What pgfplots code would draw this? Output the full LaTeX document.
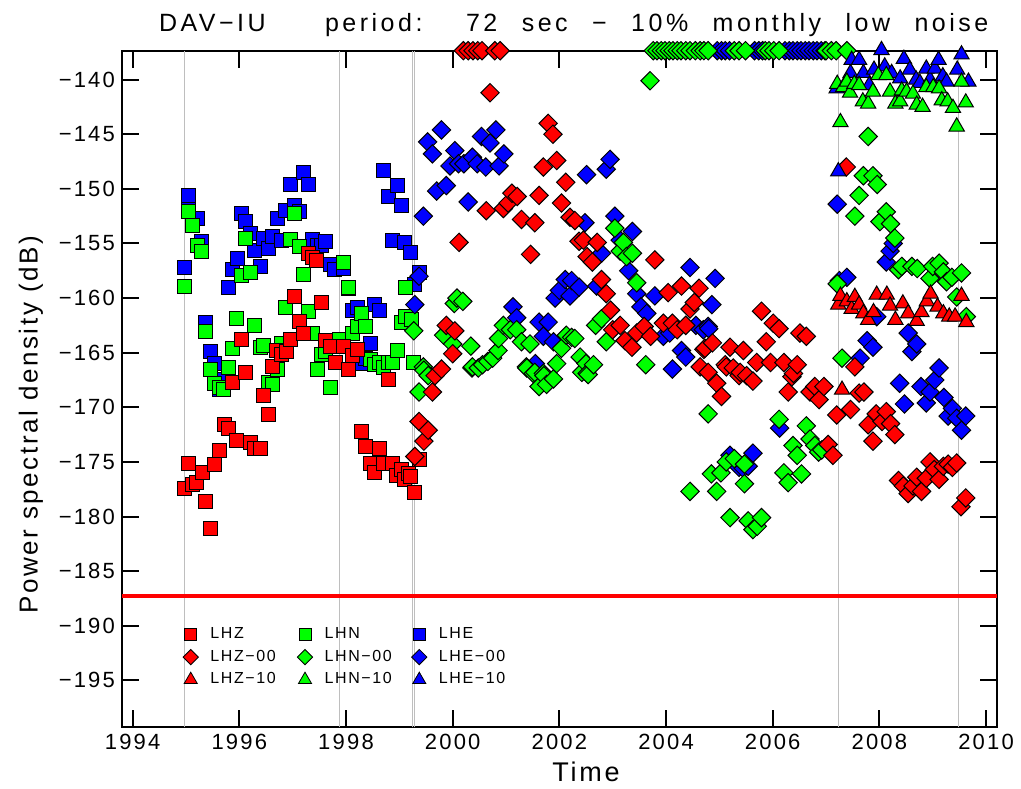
\documentclass[border=0pt]{standalone}
\usepackage{fontspec}
\setmainfont{Liberation Sans}[LetterSpace=10]
\newfontfamily\titlefont{Liberation Sans}[LetterSpace=14]
\usepackage{pgfplots}
\pgfplotsset{compat=1.18}

% marker styles: squares (no location code), diamonds (-00), triangles (-10)
\pgfplotsset{
  sq/.style={only marks, mark=square*, mark size=3.5pt, draw=black, mark options={line width=0.5pt}},
  dm/.style={only marks, mark=square*, mark size=3.25pt, draw=black, mark options={rotate=45, line width=0.5pt}},
  tr/.style={only marks, mark=triangle*, mark size=4.4pt, draw=black, mark options={line width=0.5pt}},
}
\definecolor{vline}{RGB}{190,190,190}

\begin{document}
\begin{tikzpicture}
\begin{axis}[
  scale only axis, width=437.35pt, height=338.3pt,
  xmin=1993.8, xmax=2010.2, ymin=-199.3, ymax=-137.35,
  clip=false,
  axis line style={line width=1pt},
  tick align=inside, major tick length=8.5pt,
  every tick/.style={black, line width=1pt},
  xtick={1994,1996,...,2010},
  xticklabels={1994,1996,1998,2000,2002,2004,2006,2008,2010},
  ytick={-195,-190,...,-140},
  yticklabels={−195,−190,−185,−180,−175,−170,−165,−160,−155,−150,−145,−140},
  ticklabel style={font=\fontsize{11}{11}\selectfont},
  xlabel={Time}, ylabel={Power spectral density (dB)},
  xlabel style={font=\fontsize{13.5}{13.5}\selectfont, at={(axis description cs:0.5305,-0.0794)}, anchor=base},
  ylabel style={font=\fontsize{13}{13}\selectfont, at={(axis description cs:-0.104,0.447)}, anchor=center},
  legend columns=3, transpose legend, legend cell align=left,
  legend image code/.code={\draw[#1] plot coordinates {(0pt,0pt)};},
  legend style={at={(axis description cs:0.0694,0.154)}, anchor=north west,
    draw=none, fill=none, inner sep=0pt, column sep=4pt, row sep=0.25pt,
    font=\fontsize{8}{9}\selectfont},
]
% reference lines
\addplot[vline, line width=0.5pt, forget plot] coordinates {(1994.97,-199.3) (1994.97,-137.35)};
\addplot[vline, line width=0.5pt, forget plot] coordinates {(1997.87,-199.3) (1997.87,-137.35)};
\addplot[vline, line width=0.5pt, forget plot] coordinates {(1999.25,-199.3) (1999.25,-137.35)};
\addplot[vline, line width=0.5pt, forget plot] coordinates {(1999.29,-199.3) (1999.29,-137.35)};
\addplot[vline, line width=0.5pt, forget plot] coordinates {(2007.23,-199.3) (2007.23,-137.35)};
\addplot[vline, line width=0.5pt, forget plot] coordinates {(2009.48,-199.3) (2009.48,-137.35)};
\addplot[red, line width=2pt, forget plot] coordinates {(1993.8,-187.3) (2010.2,-187.3)};

% LHE
\addplot[sq, fill=blue, forget plot] coordinates {
(1994.97,-157.2) (1995.04,-151.0) (1995.05,-150.6) (1995.21,-152.7) (1995.29,-154.8)
(1995.37,-162.2) (1995.46,-164.9) (1995.54,-166.0) (1995.62,-168.4) (1995.71,-167.5)
(1995.79,-159.0) (1995.88,-157.4) (1995.96,-156.4) (1996.04,-152.3) (1996.12,-153.0)
(1996.21,-154.1) (1996.29,-155.6) (1996.39,-157.1) (1996.46,-154.5) (1996.54,-155.5)
(1996.63,-154.4) (1996.71,-152.7) (1996.79,-154.7) (1996.87,-152.0) (1996.96,-149.6)
(1997.04,-151.5) (1997.12,-152.1) (1997.21,-148.5) (1997.29,-149.6) (1997.38,-154.6)
(1997.46,-155.2) (1997.54,-155.2) (1997.62,-154.8) (1997.70,-156.9) (1997.79,-157.4)
(1997.96,-157.3) (1998.04,-159.1) (1998.12,-161.1) (1998.21,-160.9) (1998.29,-166.0)
(1998.37,-165.5) (1998.46,-164.2) (1998.54,-160.6) (1998.62,-161.1) (1998.71,-148.3)
(1998.79,-150.7) (1998.88,-154.7) (1998.96,-149.7) (1999.04,-151.5) (1999.10,-154.9)
(1999.21,-155.8) (1999.29,-158.8) (1999.37,-157.7)};
% LHN
\addplot[sq, fill=green, forget plot] coordinates {
(1994.97,-158.9) (1995.04,-152.1) (1995.12,-153.4) (1995.21,-155.2) (1995.29,-155.7)
(1995.37,-163.1) (1995.45,-166.5) (1995.54,-167.8) (1995.62,-168.2) (1995.71,-168.4)
(1995.79,-166.4) (1995.88,-164.6) (1995.95,-161.9) (1996.04,-157.9) (1996.12,-154.5)
(1996.21,-157.7) (1996.29,-162.5) (1996.39,-164.5) (1996.46,-164.3) (1996.54,-167.7)
(1996.63,-167.9) (1996.71,-166.5) (1996.79,-164.2) (1996.87,-160.9) (1996.96,-154.6)
(1997.04,-152.3) (1997.12,-155.3) (1997.21,-157.8) (1997.29,-161.2) (1997.38,-163.2)
(1997.46,-166.5) (1997.54,-165.2) (1997.62,-164.9) (1997.70,-168.2) (1997.87,-163.8)
(1997.96,-156.7) (1998.04,-159.0) (1998.12,-163.2) (1998.21,-162.6) (1998.29,-161.4)
(1998.37,-162.6) (1998.46,-165.6) (1998.54,-166.1) (1998.62,-165.9) (1998.71,-166.4)
(1998.79,-165.9) (1998.88,-165.9) (1998.96,-164.8) (1999.04,-162.2) (1999.12,-161.7)
(1999.11,-159.0) (1999.22,-162.0) (1999.26,-165.9)};
% LHZ
\addplot[sq, fill=red, forget plot] coordinates {
(1994.97,-177.4) (1995.04,-175.1) (1995.12,-177.1) (1995.20,-176.9) (1995.30,-176.0)
(1995.37,-178.6) (1995.45,-181.1) (1995.54,-175.2) (1995.63,-174.0) (1995.72,-171.6)
(1995.79,-171.9) (1995.87,-167.7) (1995.95,-173.0) (1996.04,-163.8) (1996.12,-166.8)
(1996.20,-173.2) (1996.29,-173.8) (1996.39,-173.8) (1996.46,-168.9) (1996.54,-170.7)
(1996.63,-166.3) (1996.70,-164.8) (1996.79,-165.2) (1996.89,-164.9) (1996.96,-163.8)
(1997.04,-159.9) (1997.12,-162.1) (1997.21,-163.2) (1997.29,-155.9) (1997.38,-156.3)
(1997.45,-156.6) (1997.54,-160.4) (1997.62,-163.9) (1997.71,-164.4) (1997.80,-165.9)
(1997.95,-164.4) (1998.04,-166.5) (1998.12,-165.3) (1998.21,-164.7) (1998.29,-172.2)
(1998.37,-173.6) (1998.46,-175.1) (1998.54,-176.0) (1998.62,-173.8) (1998.70,-175.1)
(1998.79,-167.5) (1998.88,-175.1) (1998.94,-176.2) (1999.04,-175.7) (1999.10,-176.6)
(1999.17,-176.1) (1999.21,-176.3) (1999.29,-177.8) (1999.37,-174.8)};

% LHE-00
\addplot[dm, fill=blue, forget plot] coordinates {
(1999.29,-160.6) (1999.37,-158.0) (1999.45,-152.5) (1999.53,-145.7) (1999.62,-146.8)
(1999.70,-150.2) (1999.79,-144.6) (1999.88,-149.7) (1999.95,-147.9) (2000.04,-146.5)
(2000.11,-147.7) (2000.21,-147.7) (2000.29,-151.2) (2000.37,-147.1) (2000.46,-147.7)
(2000.54,-145.2) (2000.62,-148.0) (2000.70,-145.8) (2000.81,-144.6) (2000.87,-147.9)
(2000.96,-146.8) (2001.13,-160.8) (2001.20,-161.8) (2001.55,-166.0) (2001.62,-162.2)
(2001.70,-163.5) (2001.79,-162.2) (2001.89,-164.0) (2001.92,-160.0) (2002.00,-159.3)
(2002.11,-158.3) (2002.20,-159.8) (2002.23,-158.4) (2002.37,-159.0) (2002.48,-153.1)
(2002.51,-148.7) (2002.70,-158.9) (2002.79,-155.9) (2002.88,-148.2) (2002.95,-147.3)
(2003.04,-152.5) (2003.14,-154.7) (2003.30,-157.5) (2003.37,-153.9) (2003.45,-159.6)
(2003.53,-160.8) (2003.64,-161.4) (2003.79,-159.8) (2003.95,-163.5) (2004.07,-163.2)
(2004.12,-166.5) (2004.29,-164.8) (2004.37,-165.4) (2004.45,-157.2) (2004.56,-162.5)
(2004.70,-162.9) (2004.79,-162.6) (2004.80,-162.8) (2004.86,-160.6) (2004.92,-158.2)
(2005.20,-174.4) (2005.30,-175.1) (2005.37,-175.5) (2005.45,-175.6) (2005.54,-175.4)
(2005.63,-174.2) (2006.13,-171.9) (2007.21,-151.4) (2007.25,-158.4) (2007.39,-158.1)
(2007.64,-165.5) (2007.77,-163.9) (2007.88,-164.5) (2007.95,-161.7) (2008.13,-156.7)
(2008.20,-155.7) (2008.26,-155.0) (2008.38,-167.8) (2008.47,-169.7) (2008.54,-163.2)
(2008.61,-164.9) (2008.70,-164.2) (2008.78,-168.1) (2008.88,-169.6) (2008.95,-168.6)
(2009.04,-167.5) (2009.12,-166.4) (2009.21,-169.1) (2009.29,-170.8) (2009.37,-170.1)
(2009.45,-171.0) (2009.54,-172.1) (2009.62,-170.8)
(2004.96,-137.35) (2005.04,-137.35) (2005.11,-137.35) (2005.19,-137.35)
(2005.66,-137.35) (2005.74,-137.35) (2005.81,-137.35)
(2006.23,-137.35) (2006.31,-137.35) (2006.38,-137.35) (2006.46,-137.35) (2006.53,-137.35)
(2006.61,-137.35) (2006.68,-137.35) (2006.76,-137.35) (2006.83,-137.35) (2006.91,-137.35)
(2006.98,-137.35)};
% LHN-00
\addplot[dm, fill=green, forget plot] coordinates {
(1999.27,-163.0) (1999.37,-168.6) (1999.45,-166.3) (1999.46,-166.6) (1999.54,-167.1)
(1999.83,-163.4) (2000.00,-164.2) (2000.03,-160.5) (2000.08,-160.0) (2000.19,-160.3)
(2000.34,-164.4) (2000.36,-166.4) (2000.37,-166.3) (2000.48,-166.4) (2000.56,-166.1)
(2000.66,-165.8) (2000.75,-165.5) (2000.85,-164.8) (2000.86,-163.7) (2000.95,-162.5)
(2001.08,-162.9) (2001.20,-162.9) (2001.29,-164.0) (2001.38,-166.3) (2001.39,-166.4)
(2001.45,-164.2) (2001.51,-166.9) (2001.54,-166.8) (2001.62,-168.1) (2001.70,-166.9)
(2001.71,-167.1) (2001.76,-167.9) (2001.89,-167.4) (2001.95,-166.0) (2002.04,-164.6)
(2002.13,-163.4) (2002.23,-163.6) (2002.29,-163.7) (2002.39,-165.4) (2002.42,-166.8)
(2002.50,-166.0) (2002.52,-166.9) (2002.54,-167.0) (2002.64,-166.1) (2002.68,-162.5)
(2002.79,-161.9) (2002.88,-164.0) (2003.04,-153.6) (2003.14,-155.7) (2003.20,-154.9)
(2003.26,-156.2) (2003.37,-155.9) (2003.45,-158.6) (2003.62,-166.1) (2003.70,-140.1)
(2004.45,-177.7) (2004.79,-170.6) (2004.85,-176.1) (2004.95,-177.7) (2005.03,-176.0)
(2005.13,-175.0) (2005.20,-180.1) (2005.28,-174.7) (2005.47,-177.0) (2005.47,-175.2)
(2005.54,-180.4) (2005.63,-181.2) (2005.71,-180.9) (2005.79,-180.1) (2006.12,-171.1)
(2006.21,-176.0) (2006.29,-176.9) (2006.38,-173.5) (2006.46,-174.4) (2006.54,-176.1)
(2006.63,-171.7) (2006.70,-172.9) (2006.79,-173.5) (2006.86,-174.1) (2006.92,-173.9)
(2007.21,-158.7) (2007.30,-165.5) (2007.54,-152.5) (2007.62,-150.6) (2007.70,-148.8)
(2007.79,-145.2) (2007.88,-148.8) (2007.96,-149.6) (2008.01,-153.0) (2008.13,-152.1)
(2008.21,-153.2) (2008.29,-154.5) (2008.36,-157.4) (2008.42,-157.1) (2008.61,-157.1)
(2008.71,-157.3) (2008.95,-158.2) (2009.00,-157.1) (2009.12,-156.8) (2009.20,-157.6)
(2009.26,-158.5) (2009.36,-158.1) (2009.45,-159.9) (2009.54,-157.7) (2009.63,-161.7)
(2003.76,-137.35) (2003.83,-137.35) (2003.91,-137.35) (2003.98,-137.35) (2004.06,-137.35)
(2004.13,-137.35) (2004.21,-137.35) (2004.28,-137.35) (2004.37,-137.35) (2004.45,-137.35)
(2004.55,-137.35) (2004.64,-137.35) (2004.71,-137.35) (2004.79,-137.35)
(2005.28,-137.35) (2005.37,-137.35) (2005.49,-137.35)
(2005.86,-137.35) (2005.93,-137.35) (2006.02,-137.35) (2006.12,-137.35)
(2007.00,-137.35) (2007.10,-137.35) (2007.19,-137.35) (2007.39,-137.35)};
% LHZ-00
\addplot[dm, fill=red, forget plot] coordinates {
(1999.29,-174.5) (1999.37,-171.3) (1999.46,-173.1) (1999.54,-172.1) (1999.62,-168.6)
(1999.67,-167.1) (1999.79,-166.5) (1999.88,-162.5) (2000.00,-165.1) (2000.04,-163.0)
(2000.12,-154.9) (2000.63,-152.0) (2000.70,-141.2) (2000.95,-151.8) (2001.04,-151.3)
(2001.11,-150.4) (2001.21,-150.7) (2001.29,-152.8) (2001.46,-156.0) (2001.54,-153.1)
(2001.62,-150.6) (2001.70,-148.0) (2001.79,-144.0) (2001.88,-145.0) (2001.95,-147.4)
(2002.04,-151.3) (2002.12,-149.4) (2002.20,-152.6) (2002.29,-152.9) (2002.37,-154.8)
(2002.45,-154.7) (2002.52,-156.2) (2002.62,-156.7) (2002.71,-154.9) (2002.79,-158.3)
(2002.88,-159.6) (2002.96,-161.1) (2003.00,-162.9) (2003.14,-162.5) (2003.23,-163.9)
(2003.36,-164.5) (2003.45,-163.2) (2003.59,-162.6) (2003.71,-163.5) (2003.79,-156.5)
(2003.95,-162.3) (2004.04,-159.5) (2004.12,-162.3) (2004.21,-162.9) (2004.29,-158.9)
(2004.37,-162.5) (2004.45,-161.0) (2004.53,-160.4) (2004.62,-159.1) (2004.64,-166.3)
(2004.71,-164.7) (2004.73,-164.6) (2004.79,-166.8) (2004.87,-164.1) (2004.95,-167.8)
(2005.04,-169.0) (2005.11,-166.1) (2005.13,-166.3) (2005.20,-164.5) (2005.26,-166.4)
(2005.37,-167.1) (2005.39,-166.8) (2005.45,-164.8) (2005.51,-167.1) (2005.63,-167.6)
(2005.70,-165.9) (2005.79,-161.2) (2005.88,-164.0) (2005.96,-165.9) (2006.01,-162.3)
(2006.12,-162.8) (2006.21,-165.9) (2006.29,-168.6) (2006.36,-167.2) (2006.39,-166.9)
(2006.46,-166.1) (2006.51,-163.2) (2006.63,-163.5) (2006.70,-168.6) (2006.79,-168.1)
(2006.87,-169.3) (2006.96,-168.1) (2007.04,-173.4) (2007.13,-174.4) (2007.20,-170.7)
(2007.38,-148.0) (2007.46,-170.2) (2007.54,-166.3) (2007.62,-168.7) (2007.71,-168.6)
(2007.79,-171.6) (2007.88,-173.1) (2007.94,-170.6) (2008.05,-171.3) (2008.13,-170.4)
(2008.21,-171.5) (2008.29,-172.5) (2008.36,-176.7) (2008.45,-177.2) (2008.54,-177.9)
(2008.63,-177.2) (2008.70,-176.4) (2008.79,-177.7) (2008.88,-176.5) (2008.95,-175.0)
(2009.03,-175.7) (2009.12,-176.6) (2009.20,-175.4) (2009.29,-175.2) (2009.37,-175.5)
(2009.45,-175.1) (2009.53,-179.1) (2009.62,-178.3)
(2000.20,-137.35) (2000.29,-137.35) (2000.38,-137.35) (2000.47,-137.35) (2000.55,-137.35)
(2000.79,-137.35) (2000.89,-137.35)};

% LHE-10
\addplot[tr, fill=blue, forget plot] coordinates {
(2007.20,-140.8) (2007.23,-148.4) (2007.46,-139.4) (2007.48,-138.2) (2007.62,-138.2)
(2007.70,-139.4) (2007.81,-140.5) (2007.90,-139.1) (2008.04,-137.3) (2008.10,-138.8)
(2008.23,-139.4) (2008.39,-139.9) (2008.46,-138.1) (2008.57,-139.1) (2008.69,-140.0)
(2008.76,-140.3) (2008.88,-139.0) (2008.95,-140.0) (2009.04,-139.0) (2009.11,-138.2)
(2009.19,-139.7) (2009.26,-140.2) (2009.46,-139.1) (2009.54,-137.7) (2009.67,-140.2)};
% LHN-10
\addplot[tr, fill=green, forget plot] coordinates {
(2007.21,-140.4) (2007.27,-143.9) (2007.32,-140.7) (2007.39,-140.2) (2007.45,-141.2)
(2007.53,-140.4) (2007.62,-140.5) (2007.69,-142.0) (2007.79,-142.2) (2007.88,-141.1)
(2007.98,-139.6) (2008.13,-139.6) (2008.20,-141.1) (2008.30,-142.2) (2008.39,-142.0)
(2008.42,-141.0) (2008.51,-141.1) (2008.63,-141.3) (2008.70,-142.3) (2008.81,-142.5)
(2008.88,-140.7) (2009.01,-140.7) (2009.12,-140.8) (2009.17,-141.9) (2009.28,-142.0)
(2009.38,-142.6) (2009.45,-144.3) (2009.54,-140.2) (2009.62,-142.1)};
% LHZ-10
\addplot[tr, fill=red, forget plot] coordinates {
(2007.23,-160.6) (2007.27,-159.8) (2007.30,-168.4) (2007.39,-160.3) (2007.48,-161.0)
(2007.54,-159.9) (2007.62,-160.6) (2007.70,-161.4) (2007.79,-162.0) (2007.89,-161.3)
(2007.95,-159.7) (2008.14,-159.7) (2008.20,-160.7) (2008.30,-162.0) (2008.44,-160.5)
(2008.54,-161.4) (2008.70,-162.1) (2008.79,-161.3) (2008.89,-160.3) (2008.96,-159.6)
(2009.09,-160.8) (2009.20,-161.4) (2009.31,-161.7) (2009.42,-161.7) (2009.54,-159.8)
(2009.63,-162.2)};

% legend
\addlegendimage{only marks, mark=square*, mark size=3pt, draw=black, fill=red}
\addlegendentry{\makebox[37.5pt][l]{LHZ}}
\addlegendimage{only marks, mark=square*, mark size=2.7pt, draw=black, fill=red, mark options={rotate=45}}
\addlegendentry{\makebox[37.5pt][l]{LHZ−00}}
\addlegendimage{only marks, mark=triangle*, mark size=3.8pt, draw=black, fill=red}
\addlegendentry{\makebox[37.5pt][l]{LHZ−10}}
\addlegendimage{only marks, mark=square*, mark size=3pt, draw=black, fill=green}
\addlegendentry{\makebox[37.5pt][l]{LHN}}
\addlegendimage{only marks, mark=square*, mark size=2.7pt, draw=black, fill=green, mark options={rotate=45}}
\addlegendentry{\makebox[37.5pt][l]{LHN−00}}
\addlegendimage{only marks, mark=triangle*, mark size=3.8pt, draw=black, fill=green}
\addlegendentry{\makebox[37.5pt][l]{LHN−10}}
\addlegendimage{only marks, mark=square*, mark size=3pt, draw=black, fill=blue}
\addlegendentry{\makebox[37.5pt][l]{LHE}}
\addlegendimage{only marks, mark=square*, mark size=2.7pt, draw=black, fill=blue, mark options={rotate=45}}
\addlegendentry{\makebox[37.5pt][l]{LHE−00}}
\addlegendimage{only marks, mark=triangle*, mark size=3.8pt, draw=black, fill=blue}
\addlegendentry{\makebox[37.5pt][l]{LHE−10}}

% title
\node[anchor=base west, font=\titlefont\fontsize{12.5}{12.5}\selectfont] at (rel axis cs:0.0343,1.028) {DAV−IU};
\node[anchor=base west, font=\titlefont\fontsize{12.5}{12.5}\selectfont] at (rel axis cs:0.2241,1.028) {period:};
\node[anchor=base west, font=\titlefont\fontsize{12.5}{12.5}\selectfont] at (rel axis cs:0.3853,1.028) {72\hspace{7pt} sec\hspace{7pt} −\hspace{7pt} 10\%\hspace{7pt} monthly\hspace{7pt} low\hspace{7pt} noise};
\end{axis}
\useasboundingbox (-61pt,-30.35pt) rectangle (449.5pt,363.65pt);
\end{tikzpicture}
\end{document}
